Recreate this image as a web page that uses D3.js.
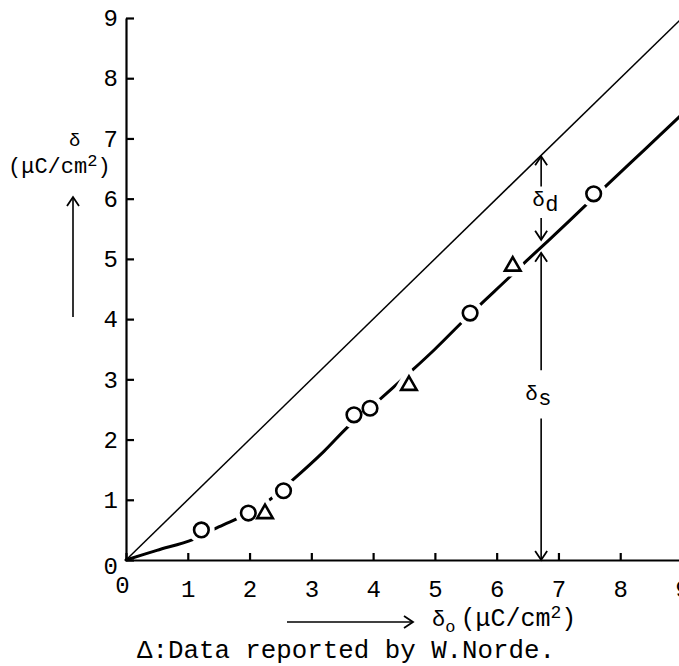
<!DOCTYPE html>
<html>
<head>
<meta charset="utf-8">
<script src="https://cdn.jsdelivr.net/npm/d3@7"></script>
<style>
  body { margin: 0; background: #fff; }
  text { font-family: "Liberation Mono", "Courier New", monospace; fill: #000; }
</style>
</head>
<body>
<div id="chart"></div>
<script>
// measured points (open circles), delta_o vs delta in uC/cm2
const circleX = [1.22, 1.98, 2.55, 3.69, 3.95, 5.57, 7.57]
const circleY = [0.50, 0.78, 1.15, 2.41, 2.52, 4.10, 6.08]
// data reported by W.Norde (triangles)
const triX = [2.25, 4.58, 6.26]
const triY = [0.77, 2.90, 4.88]
// the hand drawn curve through the points
const fitX = [0, 0.5, 1.08, 1.5, 1.97, 2.3, 2.7, 3.2, 3.6, 4.1, 4.6, 5.0, 5.57, 6.18, 6.6, 7.0, 7.4, 7.78, 8.4, 9.0]
const fitY = [0, 0.16, 0.34, 0.55, 0.77, 0.98, 1.33, 1.80, 2.22, 2.66, 3.12, 3.5, 4.08, 4.67, 5.08, 5.46, 5.85, 6.22, 6.82, 7.4]
// delta = delta_o reference line
const diagX = [0, 9]
const tickValues = [0, 1, 2, 3, 4, 5, 6, 7, 8, 9]
// where the delta_d / delta_s arrows stand
const arrowAt = 6.72
const curveAtArrow = 5.2

const W = 679, H = 666

const svg = d3.select("#chart")
  .append("svg")
    .attr("width", W)
    .attr("height", H)

const x = d3.scaleLinear().domain([0, 9]).range([126, 682])
const y = d3.scaleLinear().domain([0, 9]).range([560, 18])

// axes, ticks pointing inward
const xAxis = svg.append("g")
    .attr("transform", `translate(0,${y(0)})`)
    .call(d3.axisBottom(x).tickValues(tickValues).tickSizeInner(-7).tickSizeOuter(0).tickPadding(20))
const yAxis = svg.append("g")
    .attr("transform", `translate(${x(0)},0)`)
    .call(d3.axisLeft(y).tickValues(tickValues).tickSizeInner(-8).tickSizeOuter(0).tickPadding(8))

svg.selectAll(".domain, .tick line")
    .attr("stroke", "#000")
    .attr("stroke-width", 2.2)
svg.selectAll(".tick text")
    .style("font-family", '"Liberation Mono", monospace')
    .style("font-size", "24px")
    .attr("fill", "#000")
xAxis.selectAll(".tick").filter(d => d == 0).select("text").attr("dx", "-4").attr("dy", "0.55em")
yAxis.selectAll(".tick").filter(d => d == 0).select("text").attr("dy", "0.55em")

// thin line delta = delta_o
svg.append("path")
    .datum(diagX)
    .attr("fill", "none")
    .attr("stroke", "#000")
    .attr("stroke-width", 1.5)
    .attr("d", d3.line().x(d => x(d)).y(d => y(d)))

// fitted curve
const fitData = fitX.map((v, i) => ({ x: v, y: fitY[i] }))
svg.append("path")
    .datum(fitData)
    .attr("fill", "none")
    .attr("stroke", "#000")
    .attr("stroke-width", 3)
    .attr("stroke-linecap", "round")
    .attr("d", d3.line().curve(d3.curveCatmullRom).x(d => x(d.x)).y(d => y(d.y)))

// markers: first a white halo so the curve breaks around them
const circles = circleX.map((v, i) => ({ x: v, y: circleY[i] }))
const tris = triX.map((v, i) => ({ x: v, y: triY[i] }))
const triShape = d3.symbol().type(d3.symbolTriangle).size(105)

for (const pass of [{ c: "#fff", w: 12 }, { c: "#000", w: 2.6 }]) {
  svg.append("g").selectAll("circle")
    .data(circles)
    .join("circle")
      .attr("cx", d => x(d.x))
      .attr("cy", d => y(d.y))
      .attr("r", 7.3)
      .attr("fill", "#fff")
      .attr("stroke", pass.c)
      .attr("stroke-width", pass.w)
  svg.append("g").selectAll("path")
    .data(tris)
    .join("path")
      .attr("transform", d => `translate(${x(d.x)},${y(d.y)})`)
      .attr("d", triShape)
      .attr("fill", "#fff")
      .attr("stroke", pass.c)
      .attr("stroke-width", pass.w)
      .attr("stroke-linejoin", "miter")
}

// arrow helper: shaft from y1 to y2, head at y2
function vArrow(xp, y1, y2, head) {
  svg.append("line")
      .attr("x1", xp).attr("x2", xp).attr("y1", y1).attr("y2", y2)
      .attr("stroke", "#000").attr("stroke-width", 1.6)
  if (head) {
    const s = y2 < y1 ? 1 : -1
    svg.append("path")
        .attr("d", `M${xp - 6},${y2 + s * 9}L${xp},${y2}L${xp + 6},${y2 + s * 9}`)
        .attr("fill", "none").attr("stroke", "#000").attr("stroke-width", 1.8)
  }
}

const xa = x(arrowAt)
// delta_d
vArrow(xa, y(6.2), y(arrowAt) + 1, true)
vArrow(xa, y(5.68), y(curveAtArrow) - 7, true)
svg.append("text").attr("x", xa - 9).attr("y", y(5.87))
    .style("font-size", "21px").text("δ")
svg.append("text").attr("x", xa + 4).attr("y", y(5.8))
    .style("font-size", "22px").text("d")
// delta_s
vArrow(xa, y(3.15), y(curveAtArrow) + 6, true)
vArrow(xa, y(2.35), y(0), true)
svg.append("text").attr("x", xa - 16).attr("y", y(2.65))
    .style("font-size", "21px").text("δ")
svg.append("text").attr("x", xa - 3).attr("y", y(2.58))
    .style("font-size", "22px").text("s")

// y axis title
svg.append("text").attr("x", 69).attr("y", 146).style("font-size", "19px").text("δ")
const yt = svg.append("text").attr("x", 8).attr("y", 173).style("font-size", "22px")
yt.append("tspan").text("(μC/cm")
yt.append("tspan").attr("dy", -7).style("font-size", "17px").text("2")
yt.append("tspan").attr("dy", 7).text(")")
vArrow(73, 317, 197, true)

// x axis title
svg.append("line").attr("x1", 287).attr("x2", 413).attr("y1", 622).attr("y2", 622)
    .attr("stroke", "#000").attr("stroke-width", 1.6)
svg.append("path").attr("d", "M404,616L413,622L404,628")
    .attr("fill", "none").attr("stroke", "#000").attr("stroke-width", 1.8)
const xt = svg.append("text").attr("x", 432).attr("y", 626).style("font-size", "22px")
xt.append("tspan").text("δ")
xt.append("tspan").attr("dy", 6).style("font-size", "17px").text("o")
xt.append("tspan").attr("dy", -6).attr("dx", 5).style("font-size", "25px").text("(μC/cm")
xt.append("tspan").attr("dy", -8).style("font-size", "18px").text("2")
xt.append("tspan").attr("dy", 8).style("font-size", "25px").text(")")

// footnote
svg.append("text").attr("x", 137).attr("y", 658)
    .style("font-size", "25.8px").text("Δ:Data reported by W.Norde.")
</script>
</body>
</html>
